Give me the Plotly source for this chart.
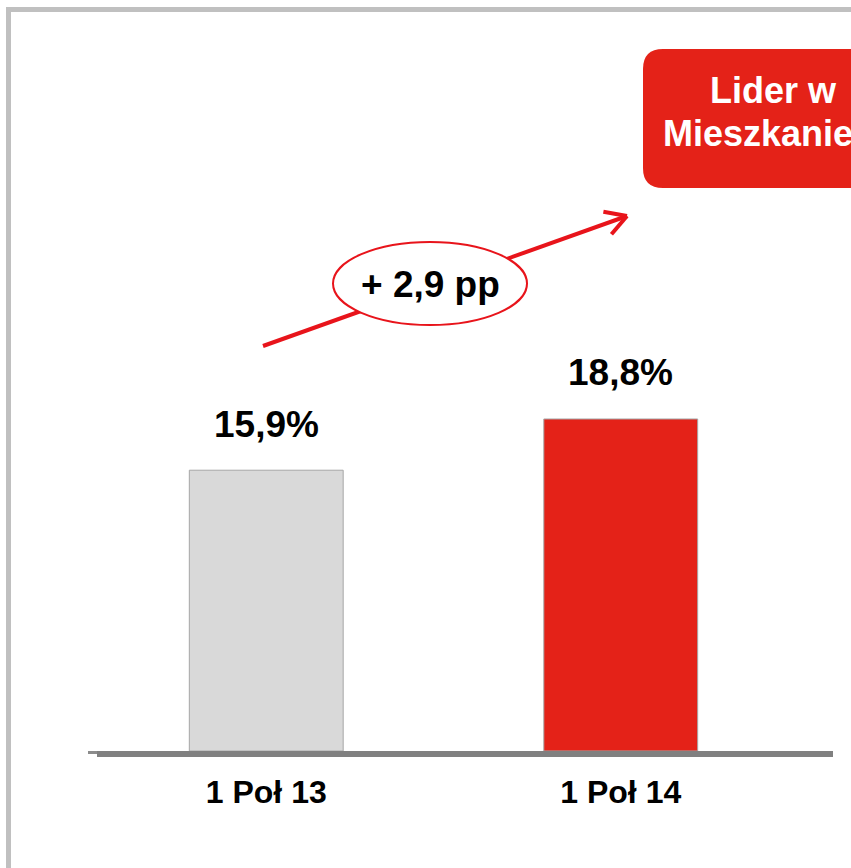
import plotly.graph_objects as go
import math

# ---- data ----
categories = ["1 Poł 13", "1 Poł 14"]
values = [15.9, 18.8]
bar_colors = ["#D9D9D9", "#E42218"]
change_label = "+ 2,9 pp"
box_lines = ["Lider w", "Mieszkaniem"]

# ---- layout geometry (pixels) ----
W, H = 851, 868
L, R = 89, 798          # plot area left/right
T, B = 20, 751          # plot area top/bottom (y=0 at B)
PX_PER_UNIT = 17.66
ymax = (B - T) / PX_PER_UNIT

def px(x):
    return (x - L) / (R - L)

def py(y):
    return (B - y) / (B - T)

FONT = "Liberation Sans, Arial, sans-serif"
RED = "#E42218"
LINE_RED = "#E8141B"

fig = go.Figure()
fig.add_trace(go.Bar(
    x=categories, y=values,
    marker=dict(color=bar_colors, line=dict(color="#A6A6A6", width=1)),
    width=0.434, hoverinfo="skip",
))

annotations = []
for c, v in zip(categories, values):
    annotations.append(dict(
        x=c, y=v, xref="x", yref="y", yanchor="middle", yshift=46,
        text=f"{v:.1f}".replace(".", ",") + "%", showarrow=False,
        font=dict(family=FONT, size=37, color="#000000", weight="bold"),
    ))

shapes = []
# outer frame (top and left grey borders)
shapes.append(dict(type="rect", xref="paper", yref="paper",
                   x0=px(6), x1=px(900), y0=py(12), y1=py(7),
                   fillcolor="#C0C0C0", line=dict(width=0), layer="above"))
shapes.append(dict(type="rect", xref="paper", yref="paper",
                   x0=px(6), x1=px(11), y0=py(900), y1=py(7),
                   fillcolor="#C0C0C0", line=dict(width=0), layer="above"))
# baseline (axis line with shadow)
shapes.append(dict(type="line", xref="paper", yref="paper",
                   x0=px(88), x1=px(830), y0=py(752.5), y1=py(752.5),
                   line=dict(color="#8C8C8C", width=3), layer="above"))
shapes.append(dict(type="rect", xref="paper", yref="paper",
                   x0=px(97), x1=px(833), y0=py(757), y1=py(751),
                   fillcolor="#808080", line=dict(width=0), layer="above"))

# arrow
ax0, ay0, ax1, ay1 = 263, 346, 627, 216
shapes.append(dict(type="line", xref="paper", yref="paper",
                   x0=px(ax0), y0=py(ay0), x1=px(ax1), y1=py(ay1),
                   line=dict(color=LINE_RED, width=4), layer="above"))
ang = math.atan2(ay0 - ay1, ax0 - ax1)
for d in (math.radians(30), -math.radians(30)):
    bx = ax1 + 24 * math.cos(ang + d)
    by = ay1 + 24 * math.sin(ang + d)
    shapes.append(dict(type="line", xref="paper", yref="paper",
                       x0=px(ax1), y0=py(ay1), x1=px(bx), y1=py(by),
                       line=dict(color=LINE_RED, width=4), layer="above"))
# ellipse
shapes.append(dict(type="circle", xref="paper", yref="paper",
                   x0=px(333), x1=px(527), y0=py(325), y1=py(242),
                   fillcolor="white", line=dict(color=LINE_RED, width=2), layer="above"))
annotations.append(dict(x=px(430), y=py(284), xref="paper", yref="paper",
                        text=change_label, showarrow=False, xanchor="center", yanchor="middle",
                        font=dict(family=FONT, size=37, color="#000000", weight="bold")))

# red rounded box
bx0, bx1, by0, by1, r = 643, 905, 49, 188, 20
path = (f"M {px(bx0 + r)},{py(by0)} L {px(bx1 - r)},{py(by0)} "
        f"Q {px(bx1)},{py(by0)} {px(bx1)},{py(by0 + r)} L {px(bx1)},{py(by1 - r)} "
        f"Q {px(bx1)},{py(by1)} {px(bx1 - r)},{py(by1)} L {px(bx0 + r)},{py(by1)} "
        f"Q {px(bx0)},{py(by1)} {px(bx0)},{py(by1 - r)} L {px(bx0)},{py(by0 + r)} "
        f"Q {px(bx0)},{py(by0)} {px(bx0 + r)},{py(by0)} Z")
shapes.append(dict(type="path", xref="paper", yref="paper", path=path,
                   fillcolor=RED, line=dict(width=0), layer="above"))
for txt, yc in zip(box_lines, [90, 134]):
    annotations.append(dict(x=px(773.5), y=py(yc), xref="paper", yref="paper",
                            text=txt, showarrow=False, xanchor="center", yanchor="middle",
                            font=dict(family=FONT, size=36, color="#FFFFFF", weight="bold")))

fig.update_layout(
    width=W, height=H,
    margin=dict(l=L, r=W - R, t=T, b=H - B, pad=0),
    paper_bgcolor="white", plot_bgcolor="white",
    showlegend=False, bargap=0.566,
    xaxis=dict(showgrid=False, zeroline=False, showline=False, ticks="",
               tickfont=dict(family=FONT, size=32, color="#000000", weight="bold"),
               ticklabelstandoff=19, fixedrange=True),
    yaxis=dict(range=[0, ymax], visible=False, fixedrange=True),
    shapes=shapes, annotations=annotations,
)

fig.write_html(
    "out.html",
    config={"displayModeBar": False},
    post_script="document.body.style.margin='0';document.body.style.overflow='hidden';",
)
